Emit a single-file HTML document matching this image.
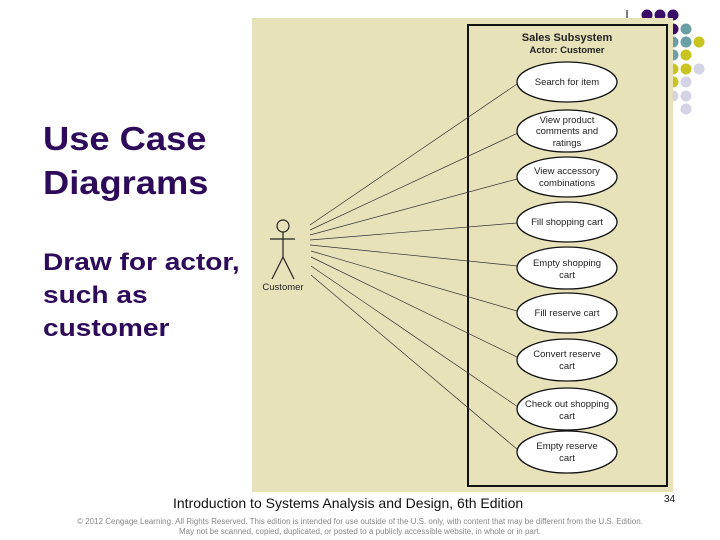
<!DOCTYPE html>
<html><head><style>
body{margin:0;width:720px;height:540px;background:#fff;position:relative;overflow:hidden;font-family:"Liberation Sans",sans-serif}
.t{position:absolute;color:#2d0a5a;font-weight:bold;transform-origin:0 0;white-space:nowrap}
</style></head><body>
<svg width="720" height="540" style="position:absolute;left:0;top:0">
<g>
<circle cx="647" cy="15" r="5.5" fill="#3a0e66"/><circle cx="660" cy="15" r="5.5" fill="#3a0e66"/><circle cx="673" cy="15" r="5.5" fill="#3a0e66"/>
<circle cx="673" cy="29" r="5.5" fill="#3a0e66"/><circle cx="686" cy="29" r="5.5" fill="#6a9fa6"/>
<circle cx="673" cy="42" r="5.5" fill="#6a9fa6"/><circle cx="686" cy="42" r="5.5" fill="#6a9fa6"/><circle cx="699" cy="42" r="5.5" fill="#c8c420"/>
<circle cx="673" cy="55" r="5.5" fill="#6a9fa6"/><circle cx="686" cy="55" r="5.5" fill="#c8c420"/>
<circle cx="673" cy="69" r="5.5" fill="#c8c420"/><circle cx="686" cy="69" r="5.5" fill="#c8c420"/><circle cx="699" cy="69" r="5.5" fill="#d4d4e6"/>
<circle cx="673" cy="82" r="5.5" fill="#c8c420"/><circle cx="686" cy="82" r="5.5" fill="#d4d4e6"/>
<circle cx="673" cy="96" r="5.5" fill="#d4d4e6"/><circle cx="686" cy="96" r="5.5" fill="#d4d4e6"/>
<circle cx="686" cy="109" r="5.5" fill="#d4d4e6"/>
<line x1="627" y1="10" x2="627" y2="18" stroke="#000" stroke-width="1"/>
</g>
<rect x="252" y="18" width="421" height="474" fill="#e8e2bb"/>
<rect x="468" y="25" width="199" height="461" fill="none" stroke="#111" stroke-width="2"/>
<text x="567" y="41" font-size="11" font-weight="bold" text-anchor="middle" fill="#222">Sales Subsystem</text>
<text x="567" y="53" font-size="9.5" font-weight="bold" text-anchor="middle" fill="#222">Actor: Customer</text>
<g stroke="#333" stroke-width="0.7">
<line x1="310" y1="225" x2="517" y2="84"/>
<line x1="310" y1="230" x2="518" y2="133"/>
<line x1="310" y1="235" x2="517" y2="179"/>
<line x1="310" y1="240" x2="517" y2="223"/>
<line x1="310" y1="245" x2="518" y2="266"/>
<line x1="311" y1="251" x2="517" y2="311"/>
<line x1="311" y1="257" x2="519" y2="358"/>
<line x1="311" y1="266" x2="518" y2="407"/>
<line x1="311" y1="275" x2="518" y2="450"/>
</g>
<g stroke="#222" stroke-width="1.2" fill="none">
<circle cx="283" cy="226" r="6"/>
<line x1="283" y1="232" x2="283" y2="257"/>
<line x1="270" y1="239" x2="295" y2="239"/>
<line x1="283" y1="257" x2="272" y2="279"/>
<line x1="283" y1="257" x2="294" y2="279"/>
</g>
<text x="283" y="290" font-size="9.5" text-anchor="middle" fill="#222">Customer</text>
<g fill="#fff" stroke="#111" stroke-width="1.3">
<ellipse cx="567" cy="82" rx="50" ry="20"/>
<ellipse cx="567" cy="131" rx="50" ry="21"/>
<ellipse cx="567" cy="177" rx="50" ry="20"/>
<ellipse cx="567" cy="222" rx="50" ry="20"/>
<ellipse cx="567" cy="268" rx="50" ry="21"/>
<ellipse cx="567" cy="313" rx="50" ry="20"/>
<ellipse cx="567" cy="360" rx="50" ry="21"/>
<ellipse cx="567" cy="409" rx="50" ry="21"/>
<ellipse cx="567" cy="452" rx="50" ry="21"/>
</g>
<g font-size="9.5" text-anchor="middle" fill="#222">
<text x="567" y="85">Search for item</text>
<text x="567" y="123">View product</text><text x="567" y="134">comments and</text><text x="567" y="146">ratings</text>
<text x="567" y="174">View accessory</text><text x="567" y="186">combinations</text>
<text x="567" y="225">Fill shopping cart</text>
<text x="567" y="266">Empty shopping</text><text x="567" y="278">cart</text>
<text x="567" y="316">Fill reserve cart</text>
<text x="567" y="357">Convert reserve</text><text x="567" y="369">cart</text>
<text x="567" y="407">Check out shopping</text><text x="567" y="419">cart</text>
<text x="567" y="449">Empty reserve</text><text x="567" y="461">cart</text>
</g>
</svg>
<div class="t" style="left:43px;top:117px;font-size:33px;line-height:44px;transform:scaleX(1.1)">Use Case<br>Diagrams</div>
<div class="t" style="left:43px;top:246px;font-size:24px;line-height:33px;transform:scaleX(1.17)">Draw for actor,<br>such as<br>customer</div>
<div style="position:absolute;left:173px;top:495px;font-size:14px;color:#111">Introduction to Systems Analysis and Design, 6th Edition</div>
<div style="position:absolute;left:664px;top:494px;font-size:10px;color:#111">34</div>
<div style="position:absolute;left:0;width:720px;top:517px;text-align:center;font-size:8px;line-height:10px;color:#888;white-space:nowrap">© 2012 Cengage Learning. All Rights Reserved. This edition is intended for use outside of the U.S. only, with content that may be different from the U.S. Edition.<br>May not be scanned, copied, duplicated, or posted to a publicly accessible website, in whole or in part.</div>
</body></html>
